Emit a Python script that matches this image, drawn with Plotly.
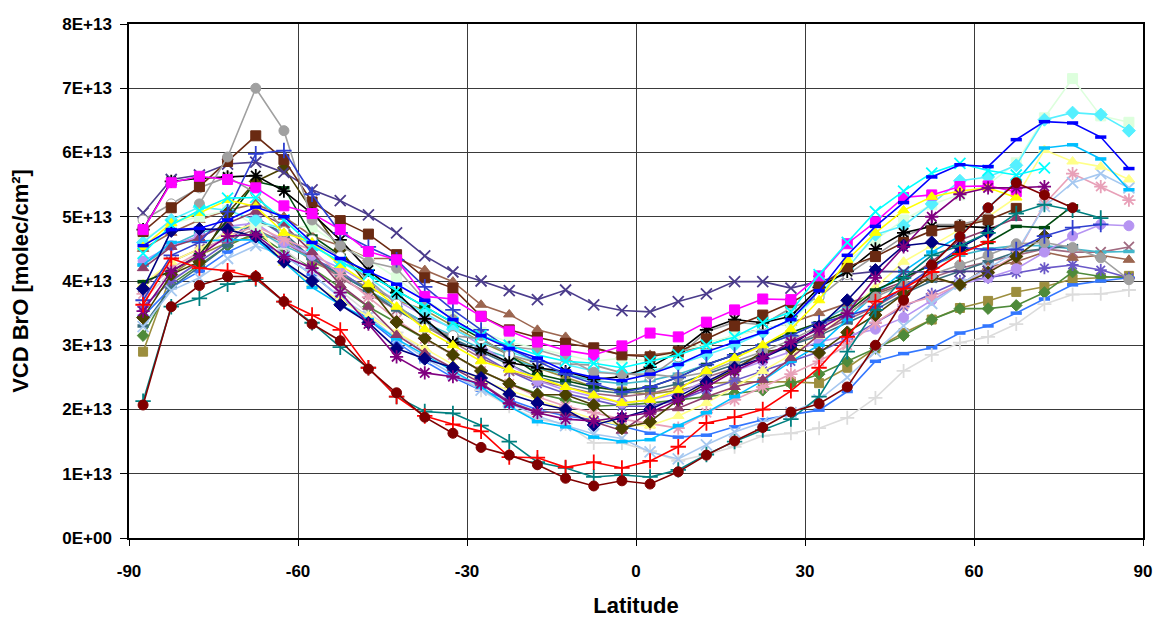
import plotly.graph_objects as go

# Latitude band centres (5 degree bins)
latitude = [-87.5, -82.5, -77.5, -72.5, -67.5, -62.5, -57.5, -52.5, -47.5, -42.5,
            -37.5, -32.5, -27.5, -22.5, -17.5, -12.5, -7.5, -2.5, 2.5, 7.5,
            12.5, 17.5, 22.5, 27.5, 32.5, 37.5, 42.5, 47.5, 52.5, 57.5,
            62.5, 67.5, 72.5, 77.5, 82.5, 87.5]

# Zonal mean BrO vertical columns, units of 1E13 molec/cm2 (None = no data)
navy_diamond = [3.88, 4.78, 4.81, 4.80, 4.69, 4.30, 4.00, 3.63, 3.35, 2.95, 2.79, 2.65, 2.49, 2.24, 2.10, 2.00, 1.76, 1.87,
                2.00, 2.20, 2.43, 2.65, 2.80, 3.00, 3.29, 3.70, 4.17, 4.55, 4.60, 4.52, 4.75, None, None, None, None, None]
magenta_square = [4.80, 5.53, 5.63, 5.58, 5.45, 5.17, 5.05, 4.80, 4.46, 4.33, 3.76, 3.72, 3.45, 3.22, 3.05, 2.92, 2.85, 2.99,
                  3.19, 3.13, 3.36, 3.55, 3.72, 3.71, 4.08, 4.58, 4.92, 5.30, 5.34, 5.47, 5.48, 5.39, None, None, None, None]
yellow_triangle = [4.53, 4.90, 5.06, 5.26, 5.16, 4.75, 4.60, 4.25, 3.95, 3.60, 3.25, 3.00, 2.75, 2.62, 2.50, 2.35, 2.22, 2.10,
                   2.15, 2.30, 2.60, 2.80, 3.00, 3.25, 3.70, 4.33, 4.75, 5.10, 5.31, 5.40, 5.45, 5.30, None, None, None, None]
cyan_x = [4.43, 4.87, 5.10, 5.29, 5.30, 4.95, 4.55, 4.30, 4.10, 3.85, 3.60, 3.35, 3.15, 3.00, 2.85, 2.75, 2.72, 2.65,
          2.75, 2.85, 3.00, 3.13, 3.35, 3.52, 4.10, 4.60, 5.08, 5.40, 5.68, 5.83, 5.72, 5.65, 5.76, None, None, None]
purple_star = [3.53, 4.15, 4.40, 4.70, 4.72, 4.38, 4.20, 3.82, 3.33, 2.82, 2.57, 2.51, 2.40, 2.10, 1.95, 1.85, 1.82, 1.88,
               1.95, 2.15, 2.35, 2.60, 2.80, 3.05, 3.25, 3.50, 4.05, 4.53, 5.00, 5.35, 5.45, 5.45, 5.47, None, None, None]
maroon_circle = [2.07, 3.60, 3.93, 4.07, 4.07, 3.68, 3.33, 3.07, 2.63, 2.26, 1.88, 1.63, 1.41, 1.29, 1.14, 0.93, 0.81, 0.89,
                 0.84, 1.03, 1.29, 1.51, 1.72, 1.96, 2.09, 2.35, 3.00, 3.70, 4.25, 4.69, 5.14, 5.53, 5.34, 5.14, None, None]
teal_plus = [2.13, 3.60, 3.73, 3.95, 4.03, 3.68, 3.35, 2.97, 2.65, 2.20, 1.97, 1.94, 1.75, 1.50, 1.18, 1.09, 0.95, 0.98,
             0.95, 1.06, 1.30, 1.50, 1.68, 1.85, 2.20, 2.90, 3.55, 4.05, 4.40, 4.55, 4.75, 5.05, 5.19, 5.10, 4.98, None]
blue_dash = [4.55, 4.80, 4.82, 4.95, 5.15, 5.00, 4.60, 4.35, 4.15, 3.95, 3.70, 3.40, 3.15, 2.95, 2.80, 2.60, 2.50, 2.45,
             2.55, 2.70, 2.90, 3.05, 3.20, 3.40, 3.85, 4.40, 4.85, 5.22, 5.62, 5.81, 5.78, 6.20, 6.48, 6.46, 6.24, 5.75]
skyblue_dash = [4.25, 4.60, 4.62, 4.64, 4.64, 4.30, 3.90, 3.63, 3.40, 3.10, 2.85, 2.60, 2.35, 2.05, 1.81, 1.73, 1.57, 1.50,
                1.53, 1.75, 1.95, 2.20, 2.45, 2.75, 3.00, 3.40, 3.80, 4.15, 4.45, 4.70, 5.14, 5.55, 6.07, 6.12, 5.90, 5.42]
aqua_diamond = [4.60, 4.95, 5.15, 5.10, 4.95, 4.80, 4.55, 4.30, 4.05, 3.75, 3.50, 3.25, 3.05, 2.90, 2.75, 2.70, 2.60, 2.55,
                2.60, 2.70, 2.85, 3.00, 3.20, 3.40, 3.80, 4.20, 4.72, 4.86, 5.20, 5.56, 5.62, 5.80, 6.51, 6.62, 6.59, 6.34]
mint_square = [4.65, 4.90, 5.00, 5.10, 4.87, 4.85, 4.84, 4.55, 4.33, 4.05, 3.70, 3.45, 3.20, 3.05, 2.95, 2.85, 2.75, 2.80,
               2.75, 2.90, 3.04, 3.15, 3.25, 3.35, 3.80, 4.30, 4.64, 4.95, 5.19, 5.34, 5.50, 5.84, 6.54, 7.15, 6.57, 6.47]
paleyellow_triangle = [3.95, 4.30, 4.50, 4.75, 4.90, 4.28, 3.95, 3.70, 3.45, 3.20, 2.95, 2.70, 2.45, 2.30, 2.15, 2.00, 1.85, 1.75,
                       1.75, 1.90, 2.10, 2.35, 2.60, 2.85, 3.15, 3.50, 3.90, 4.30, 4.55, 4.80, 5.00, 5.30, 6.04, 5.86, 5.78, 5.58]
paleblue_x = [3.29, 3.85, 4.05, 4.35, 4.55, 4.40, 4.10, 3.75, 3.45, 3.10, 2.80, 2.55, 2.30, 2.10, 1.90, 1.75, 1.62, 1.55,
              1.34, 1.23, 1.45, 1.65, 1.80, 1.95, 2.15, 2.50, 2.90, 3.30, 3.65, 3.95, 4.20, 4.45, 5.16, 5.53, 5.67, 5.45]
rose_star = [3.80, 4.20, 4.45, 4.70, 4.85, 4.65, 4.48, 4.10, 3.75, 3.40, 3.10, 2.85, 2.60, 2.40, 2.20, 2.05, 1.95, 1.85,
             1.78, 1.71, 1.95, 2.15, 2.35, 2.55, 2.75, 3.00, 3.35, 3.63, 3.75, 3.95, 4.15, 4.40, 5.20, 5.67, 5.47, 5.26]
lavender_circle = [4.31, 4.55, 4.70, 4.85, 4.90, 4.60, 4.40, 4.20, 3.95, 3.70, 3.45, 3.27, 3.00, 2.70, 2.45, 2.30, 2.20, 2.10,
                   2.15, 2.25, 2.45, 2.60, 2.75, 2.90, 3.05, 3.15, 3.25, 3.43, 3.70, 3.95, 4.05, 4.19, 4.45, 4.70, 4.88, 4.86]
gray_circle = [None, None, 5.20, 5.93, 7.00, 6.34, 4.95, 4.55, 4.30, 4.20, 3.70, 3.40, 3.15, 2.98, 2.93, 2.80, 2.58, 2.55,
               2.55, 2.50, 2.58, 2.75, 2.90, 3.08, 3.30, 3.50, 3.75, 3.95, 4.10, 4.25, 4.40, 4.58, 4.60, 4.52, 4.36, 4.02]
brown_square = [4.77, 5.14, 5.47, 5.86, 6.26, 5.89, 5.23, 4.94, 4.73, 4.41, 4.05, 3.89, 3.45, 3.24, 3.12, 3.03, 2.96, 2.85,
                2.82, 2.90, 3.10, 3.30, 3.47, 3.66, 3.91, 4.22, 4.38, 4.60, 4.78, 4.85, 4.95, 5.13, None, None, None, None]
black_star = [4.80, 5.55, 5.60, 5.62, 5.64, 5.40, 5.05, 4.64, 4.17, 3.82, 3.41, 3.04, 2.93, 2.73, 2.65, 2.59, 2.47, 2.51,
              2.66, 2.90, 3.24, 3.40, 3.35, 3.45, 3.90, 4.15, 4.50, 4.75, 4.85, 4.85, 4.83, None, None, None, None, None]
white_circle = [4.95, 5.20, 5.45, 5.62, 5.37, 4.77, 4.64, 4.38, 4.02, 3.64, 3.27, 3.15, 3.10, 2.85, 2.73, 2.71, 2.69, 2.57,
                2.51, 2.82, 3.21, 3.36, 3.32, 3.58, 3.75, 4.10, 4.40, 4.69, 4.88, 4.88, 4.98, None, None, None, None, None]
slate_x = [5.06, 5.58, 5.65, 5.82, 5.85, 5.69, 5.42, 5.25, 5.03, 4.75, 4.39, 4.14, 4.00, 3.85, 3.71, 3.86, 3.63, 3.54,
           3.52, 3.68, 3.80, 3.99, 3.99, 3.89, 4.00, 4.10, 4.15, 4.14, 4.14, 4.15, 4.15, None, None, None, None, None]
olive_diamond = [3.43, 4.10, 4.30, 5.06, 5.55, 5.76, 5.10, 4.49, 3.91, 3.36, 3.11, 2.85, 2.60, 2.40, 2.23, 2.23, 2.07, 1.71,
                 1.81, 2.15, 2.40, 2.62, 2.90, 2.95, 2.88, 3.20, 3.47, 3.80, 4.07, 3.94, 4.13, 4.38, 4.70, None, None, None]
darkgreen_dash = [3.99, 4.15, 4.41, 4.95, 5.55, 5.45, 4.70, 4.40, 4.10, 3.85, 3.60, 3.35, 3.10, 2.85, 2.55, 2.45, 2.35, 2.30,
                  2.35, 2.50, 2.70, 2.85, 3.00, 3.20, 3.35, 3.52, 3.86, 4.05, 4.25, 4.45, 4.60, 4.85, 4.83, 5.17, None, None]
mauve_triangle = [4.20, 4.53, 4.67, 4.90, 5.08, 4.87, 4.45, 3.94, 3.60, 3.16, 2.88, 2.65, 2.41, 2.12, 1.96, 1.95, 1.81, 1.67,
                  1.96, 2.02, 2.20, 2.35, 2.46, 2.80, 3.16, 3.47, 3.82, 3.99, 4.30, 4.64, 4.80, 4.98, None, None, None, None]
khaki_square = [2.90, 4.10, 4.40, 4.60, 4.70, 4.67, 4.30, 4.10, 3.89, 3.70, 3.55, 3.30, 3.05, 2.85, 2.65, 2.50, 2.35, 2.28,
                2.24, 2.30, 2.40, 2.43, 2.43, 2.43, 2.41, 2.65, 2.95, 3.19, 3.40, 3.58, 3.69, 3.83, 3.91, 4.03, 4.05, 4.08]
green_diamond = [3.15, 3.95, 4.25, 4.55, 4.75, 4.45, 4.20, 3.90, 3.60, 3.35, 3.10, 2.85, 2.60, 2.40, 2.25, 2.15, 2.05, 2.07,
                 2.10, 2.15, 2.20, 2.25, 2.30, 2.40, 2.55, 2.75, 2.95, 3.15, 3.40, 3.57, 3.57, 3.62, 3.82, 4.14, 4.07, 4.05]
slateteal_dash = [3.30, 3.90, 4.22, 4.55, 4.95, 4.75, 4.35, 4.10, 3.85, 3.55, 3.30, 3.10, 2.90, 2.70, 2.50, 2.40, 2.30, 2.25,
                  2.30, 2.40, 2.55, 2.70, 2.85, 3.00, 3.15, 3.35, 3.55, 3.80, 4.00, 4.15, 4.30, 4.45, 4.50, 4.55, None, None]
sienna_triangle = [4.50, 4.75, 4.95, 5.10, 5.20, 5.00, 4.70, 4.55, 4.35, 4.35, 4.17, 3.99, 3.63, 3.48, 3.24, 3.13, 2.95, 2.85,
                   2.85, 2.90, 2.98, 3.16, 3.25, 3.35, 3.50, 3.65, 3.80, 3.95, 4.05, 3.94, 4.22, 4.30, 4.45, 4.36, 4.40, 4.33]
iris_star = [3.60, 4.00, 4.30, 4.60, 5.00, 4.70, 4.35, 4.15, 3.85, 3.60, 3.35, 3.10, 2.85, 2.60, 2.40, 2.25, 2.15, 2.05,
             2.05, 2.15, 2.30, 2.45, 2.60, 2.75, 2.90, 3.10, 3.35, 3.60, 3.80, 4.00, 4.05, 4.13, 4.20, 4.25, 4.17, 4.05]
dusky_x = [3.90, 4.30, 4.50, 4.65, 4.80, 4.60, 4.35, 4.05, 3.80, 3.55, 3.30, 3.05, 2.80, 2.60, 2.45, 2.35, 2.25, 2.20,
           2.25, 2.35, 2.50, 2.65, 2.85, 3.00, 3.20, 3.40, 3.60, 3.85, 4.05, 4.20, 4.30, 4.40, 4.50, 4.45, 4.45, 4.53]
turquoise_dash = [4.25, 4.55, 4.75, 4.85, 4.80, 4.55, 4.35, 4.10, 3.85, 3.60, 3.35, 3.15, 2.95, 2.80, 2.65, 2.55, 2.45, 2.40,
                  2.45, 2.55, 2.70, 2.85, 3.00, 3.15, 3.35, 3.60, 3.85, 4.05, 4.25, 4.40, 4.50, 4.55, 4.55, 4.50, 4.45, 4.46]
silver_plus = [3.70, 4.15, 4.45, 4.80, 4.85, 4.50, 4.15, 3.85, 3.50, 3.20, 2.90, 2.60, 2.30, 2.05, 1.85, 1.78, 1.48, 1.48,
               1.35, 1.20, 1.30, 1.42, 1.59, 1.63, 1.71, 1.87, 2.18, 2.60, 2.85, 3.04, 3.13, 3.33, 3.64, 3.79, 3.80, 3.86]
cornflower_dash = [3.45, 3.90, 4.15, 4.45, 4.65, 4.40, 4.10, 3.75, 3.40, 3.05, 2.75, 2.50, 2.30, 2.15, 2.00, 1.90, 1.84, 1.74,
                   1.63, 1.57, 1.60, 1.73, 1.84, 1.92, 1.99, 2.28, 2.75, 2.87, 2.96, 3.19, 3.30, 3.50, 3.72, 3.94, 4.00, 4.05]
royal_plus = [3.70, 4.40, 4.60, 5.08, 5.98, 6.03, 5.35, 4.75, 4.53, 4.33, 3.91, 3.55, 3.24, 2.95, 2.75, 2.55, 2.40, 2.27,
              2.35, 2.50, 2.70, 2.85, 3.00, 3.15, 3.35, 3.45, 3.60, 3.90, 4.20, 4.52, 4.49, 4.49, 4.70, 4.83, 4.88, None]
red_plus = [3.63, 4.35, 4.20, 4.16, 4.05, 3.68, 3.47, 3.24, 2.65, 2.20, 1.90, 1.77, 1.66, 1.26, 1.25, 1.10, 1.18, 1.09,
            1.20, 1.42, 1.79, 1.88, 2.00, 2.29, 2.65, 3.13, 3.68, 3.88, 4.14, 4.42, 4.61, None, None, None, None, None]

# Axis ticks
y_tick_values = [0, 1e13, 2e13, 3e13, 4e13, 5e13, 6e13, 7e13, 8e13]
y_tick_labels = ["0E+00", "1E+13", "2E+13", "3E+13", "4E+13", "5E+13", "6E+13", "7E+13", "8E+13"]
x_tick_values = [-90, -60, -30, 0, 30, 60, 90]

# (values, line/marker colour, marker symbol, marker size, fill colour)
series = [
    (khaki_square, "#9C8E3E", "square", 9, None),
    (green_diamond, "#4E8A3A", "diamond", 9, None),
    (cornflower_dash, "#3377FF", "dash", 8, None),
    (silver_plus, "#DCDCDC", "plus", 10, None),
    (iris_star, "#6A58C8", "star", 10, None),
    (dusky_x, "#A06A80", "x", 10, None),
    (turquoise_dash, "#44B8CC", "dash", 8, None),
    (slateteal_dash, "#3A6E7E", "dash", 8, None),
    (sienna_triangle, "#9C6650", "triangle-up", 10, None),
    (lavender_circle, "#B694F2", "circle", 10, None),
    (rose_star, "#E8A0B8", "star", 11, None),
    (paleblue_x, "#A6C8F0", "x", 11, None),
    (paleyellow_triangle, "#FFFF88", "triangle-up", 10, None),
    (mint_square, "#DDFFDD", "square", 10, None),
    (aqua_diamond, "#55F0FF", "diamond", 10, None),
    (skyblue_dash, "#00BFFF", "dash", 8, None),
    (mauve_triangle, "#8E3C6A", "triangle-up", 10, None),
    (darkgreen_dash, "#004A10", "dash", 8, None),
    (olive_diamond, "#4A4000", "diamond", 10, None),
    (slate_x, "#4B3C8C", "x", 11, None),
    (white_circle, "#9A9A9A", "circle", 10, "#FFFFFF"),
    (black_star, "#000000", "star", 11, None),
    (brown_square, "#6A2A12", "square", 10, None),
    (gray_circle, "#A0A0A0", "circle", 10, None),
    (royal_plus, "#2F3FD0", "plus", 11, None),
    (navy_diamond, "#000080", "diamond", 10, None),
    (magenta_square, "#FF00FF", "square", 10, None),
    (yellow_triangle, "#FFFF00", "triangle-up", 10, None),
    (cyan_x, "#00FFFF", "x", 11, None),
    (purple_star, "#800080", "star", 11, None),
    (blue_dash, "#0000FF", "dash", 8, None),
    (teal_plus, "#008080", "plus", 11, None),
    (red_plus, "#FF0000", "plus", 11, None),
    (maroon_circle, "#800000", "circle", 10, None),
]

symbol_map = {
    "square": "square",
    "diamond": "diamond",
    "circle": "circle",
    "triangle-up": "triangle-up",
    "x": "x-thin-open",
    "star": "asterisk-open",
    "plus": "cross-thin-open",
    "dash": "line-ew-open",
}

fig = go.Figure()
for values, color, marker, size, fill in series:
    ys = [None if v is None else v * 1e13 for v in values]
    open_marker = marker in ("x", "star", "plus", "dash")
    mline_width = 3.5 if marker == "dash" else (1.8 if open_marker else 1)
    fig.add_trace(go.Scatter(
        x=latitude, y=ys, mode="lines+markers",
        line=dict(color=color, width=1.6),
        marker=dict(symbol=symbol_map[marker], size=size,
                    color=fill if fill else color,
                    line=dict(color=color, width=mline_width)),
        connectgaps=False, showlegend=False, hoverinfo="skip",
    ))

axis_font = dict(family="Liberation Sans, Arial, sans-serif", size=17, color="#000000")
title_font = dict(family="Liberation Sans, Arial, sans-serif", size=22, color="#000000")

fig.update_layout(
    width=1156, height=618,
    margin=dict(l=129, r=13, t=24, b=80),
    paper_bgcolor="#FFFFFF", plot_bgcolor="#FFFFFF",
    xaxis=dict(
        range=[-90, 90], tickvals=x_tick_values,
        ticktext=["<b>%d</b>" % v for v in x_tick_values],
        showgrid=True, gridcolor="#3A3A3A", gridwidth=1,
        zeroline=False, showline=True, linecolor="#000000", linewidth=1.5, mirror=True,
        ticks="outside", ticklen=6, tickcolor="#000000",
        ticklabelstandoff=11,
        tickfont=axis_font, automargin=False,
        title=dict(text="<b>Latitude</b>", font=title_font, standoff=18),
    ),
    yaxis=dict(
        range=[0, 8e13], tickvals=y_tick_values,
        ticktext=["<b>%s</b>" % t for t in y_tick_labels],
        showgrid=True, gridcolor="#3A3A3A", gridwidth=1,
        zeroline=False, showline=True, linecolor="#000000", linewidth=1.5, mirror=True,
        ticks="outside", ticklen=7, tickcolor="#000000",
        ticklabelstandoff=5,
        tickfont=axis_font, automargin=False,
        title=dict(text="<b>VCD BrO [molec/cm²]</b>", font=title_font, standoff=28),
    ),
)

fig.write_html("out.html")
